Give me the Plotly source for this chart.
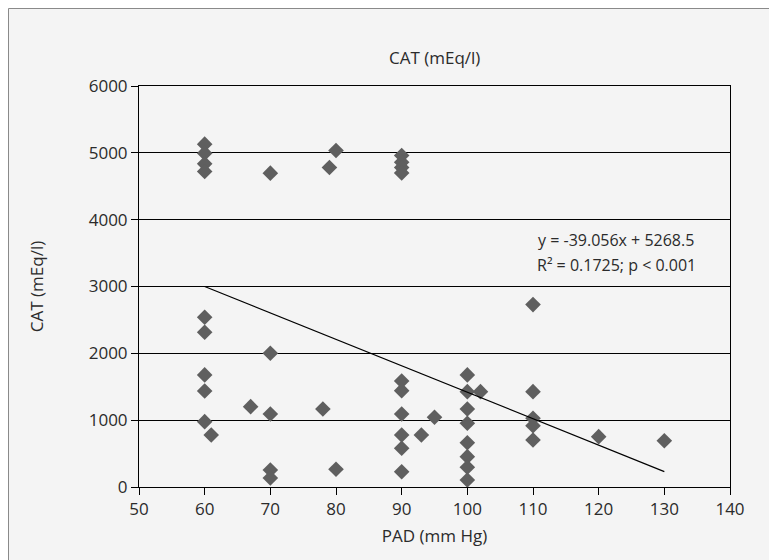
import plotly.graph_objects as go

# Data
pad = [60, 60, 60, 60, 70, 80, 79, 90, 90, 90, 90,
       60, 60, 60, 60, 60, 61, 67, 70, 70, 70, 70, 78, 80,
       90, 90, 90, 90, 90, 90, 93, 95,
       100, 100, 100, 100, 100, 100, 100, 100, 102,
       110, 110, 110, 110, 110, 120, 130]
cat = [5130, 4995, 4835, 4720, 4696, 5034, 4780, 4960, 4860, 4780, 4700,
       2540, 2316, 1677, 1437, 978, 778, 1202, 2001, 1093, 254, 135, 1168, 265,
       1587, 1442, 1093, 778, 579, 229, 778, 1043,
       1677, 1427, 1168, 953, 663, 454, 295, 105, 1427,
       2729, 1427, 1028, 918, 704, 753, 693]
trend_x = [60, 130]
trend_y = [3000, 230]
x_ticks = [50, 60, 70, 80, 90, 100, 110, 120, 130, 140]
y_ticks = [0, 1000, 2000, 3000, 4000, 5000, 6000]

FONT = "Open Sans, Noto Sans, sans-serif"
TXT = "#2b2b2b"
PW, PH = 591, 401  # plot area size in px

fig = go.Figure()
fig.add_trace(go.Scatter(x=pad, y=cat, mode="markers",
                         marker=dict(symbol="diamond", size=12, color="#5f5f5f",
                                     line=dict(width=0)),
                         showlegend=False, cliponaxis=False))
fig.add_trace(go.Scatter(x=trend_x, y=trend_y, mode="lines",
                         line=dict(color="black", width=1.2), showlegend=False))

# outer grey panel with a thin border on the left / top
fig.add_shape(type="rect", xref="paper", yref="paper",
              x0=(0.5 - 131) / PW, x1=1.3, y0=-0.4, y1=(479 - 0.5) / PH,
              fillcolor="#f4f4f4", line=dict(color="#8a8a8a", width=1), layer="below")

fig.add_annotation(xref="paper", yref="paper", x=0.5, y=1.0 + 28 / PH,
                   text="CAT (mEq/l)", showarrow=False, xanchor="center", yanchor="middle",
                   font=dict(family=FONT, size=17, color=TXT))
fig.add_annotation(xref="paper", yref="paper", x=(536 - 139) / PW,
                   y=(487 - 240) / PH,
                   text="y = -39.056x + 5268.5",
                   showarrow=False, xanchor="left", yanchor="middle", align="left",
                   font=dict(family=FONT, size=16, color=TXT))
fig.add_annotation(xref="paper", yref="paper", x=(535 - 139) / PW,
                   y=(487 - 265) / PH,
                   text="R² = 0.1725; p < 0.001",
                   showarrow=False, xanchor="left", yanchor="middle", align="left",
                   font=dict(family=FONT, size=16, color=TXT))

fig.update_layout(
    width=777, height=560,
    margin=dict(l=131, r=55, t=78, b=81),
    paper_bgcolor="white", plot_bgcolor="white",
    font=dict(family=FONT, size=17, color=TXT),
    xaxis=dict(range=[50, 140], tickvals=x_ticks, showgrid=False, zeroline=False,
               showline=True, linecolor="black", linewidth=1, mirror=True,
               ticks="outside", ticklen=7, tickcolor="black",
               title=dict(text="PAD (mm Hg)", standoff=10,
                          font=dict(family=FONT, size=17, color=TXT)),
               tickfont=dict(family=FONT, size=17, color=TXT)),
    yaxis=dict(range=[0, 6000], tickvals=y_ticks, showgrid=True, gridcolor="black",
               gridwidth=1, zeroline=False,
               showline=True, linecolor="black", linewidth=1, mirror=True,
               ticks="outside", ticklen=7, tickcolor="black",
               title=dict(text="CAT (mEq/l)", standoff=40,
                          font=dict(family=FONT, size=17, color=TXT)),
               tickfont=dict(family=FONT, size=17, color=TXT)),
)

fig.write_html("out.html")
